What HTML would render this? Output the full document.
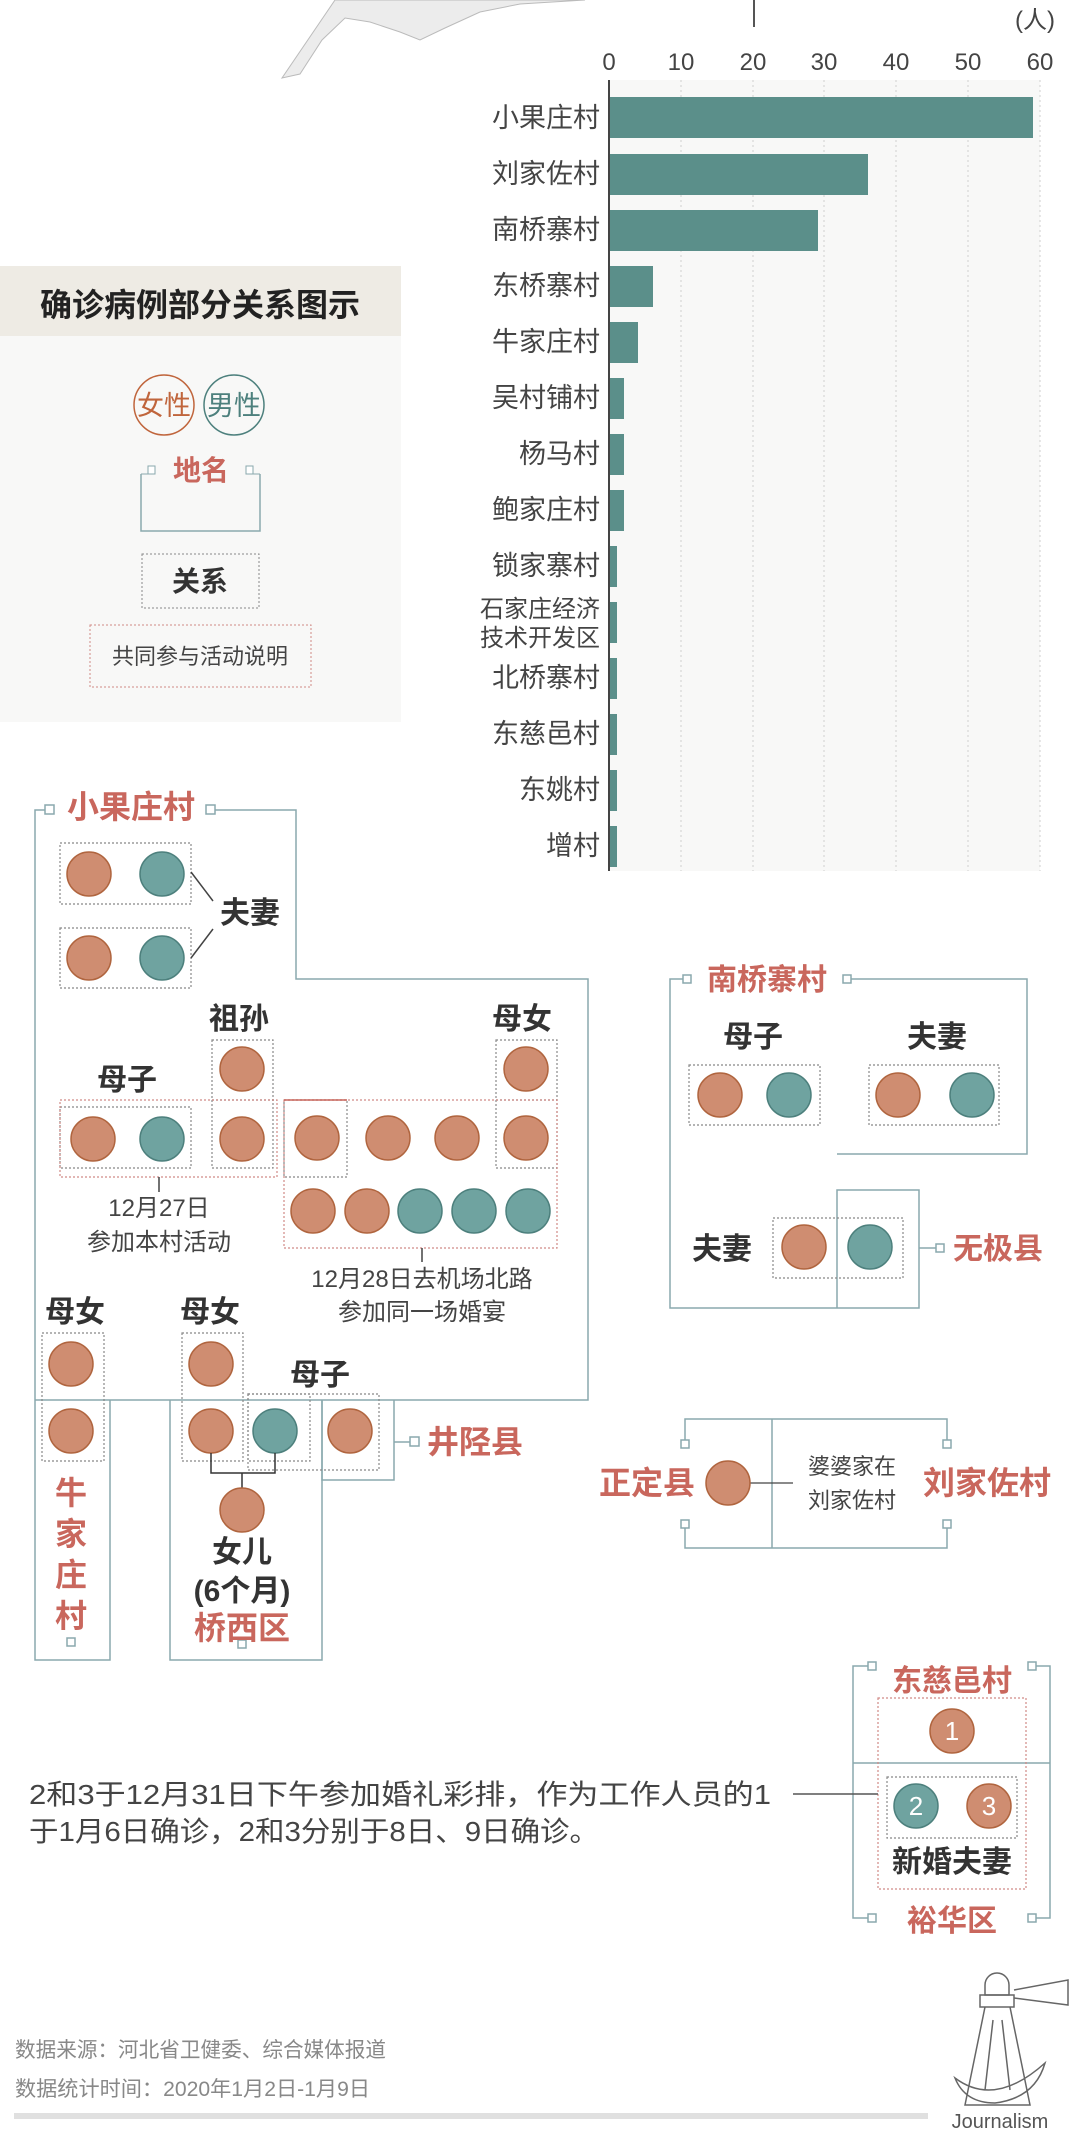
<!DOCTYPE html>
<html><head><meta charset="utf-8"><style>
html,body{margin:0;padding:0;background:#fff;}
svg{display:block;}
text{font-family:"Liberation Sans","Noto Sans CJK SC",sans-serif;}
</style></head><body>
<svg width="1080" height="2136" viewBox="0 0 1080 2136" xmlns="http://www.w3.org/2000/svg">
<defs>
<g id="f"><circle r="22" fill="#cf8d71" stroke="#b0653f" stroke-width="1.5"/></g>
<g id="m"><circle r="22" fill="#6fa3a0" stroke="#4d807d" stroke-width="1.5"/></g>
</defs>
<!-- map shape -->
<polygon points="335,0 282,78 300,74 322,40 345,18 370,22 400,32 420,40 445,28 480,12 520,4 585,0" fill="#ececec" stroke="#bbb" stroke-width="1"/>
<line x1="754" y1="0" x2="754" y2="27" stroke="#555" stroke-width="2"/>
<text x="1035" y="28" font-size="24" fill="#444" text-anchor="middle">(人)</text>
<!-- chart -->
<rect x="609" y="80" width="431" height="791" fill="#f8f8f7"/>
<g stroke="#cfcfcf" stroke-dasharray="2,3" stroke-width="1">
<line x1="681" y1="80" x2="681" y2="871"/><line x1="753" y1="80" x2="753" y2="871"/><line x1="824" y1="80" x2="824" y2="871"/><line x1="896" y1="80" x2="896" y2="871"/><line x1="968" y1="80" x2="968" y2="871"/><line x1="1040" y1="80" x2="1040" y2="871"/>
</g>
<line x1="609" y1="80" x2="609" y2="871" stroke="#444" stroke-width="2"/>
<g font-size="24" fill="#444" text-anchor="middle">
<text x="609" y="70">0</text><text x="681" y="70">10</text><text x="753" y="70">20</text><text x="824" y="70">30</text><text x="896" y="70">40</text><text x="968" y="70">50</text><text x="1040" y="70">60</text>
</g>
<g fill="#5b8f8a">
<rect x="610" y="97" width="423" height="41"/>
<rect x="610" y="154" width="258" height="41"/>
<rect x="610" y="210" width="208" height="41"/>
<rect x="610" y="266" width="43" height="41"/>
<rect x="610" y="322" width="28" height="41"/>
<rect x="610" y="378" width="14" height="41"/>
<rect x="610" y="434" width="14" height="41"/>
<rect x="610" y="490" width="14" height="41"/>
<rect x="610" y="546" width="7" height="41"/>
<rect x="610" y="602" width="7" height="41"/>
<rect x="610" y="658" width="7" height="41"/>
<rect x="610" y="714" width="7" height="41"/>
<rect x="610" y="770" width="7" height="41"/>
<rect x="610" y="826" width="7" height="41"/>
</g>
<g font-size="27" fill="#444" text-anchor="end">
<text x="600" y="127">小果庄村</text>
<text x="600" y="183">刘家佐村</text>
<text x="600" y="239">南桥寨村</text>
<text x="600" y="295">东桥寨村</text>
<text x="600" y="351">牛家庄村</text>
<text x="600" y="407">吴村铺村</text>
<text x="600" y="463">杨马村</text>
<text x="600" y="519">鲍家庄村</text>
<text x="600" y="575">锁家寨村</text>
<text x="600" y="617" font-size="24">石家庄经济</text>
<text x="600" y="646" font-size="24">技术开发区</text>
<text x="600" y="687">北桥寨村</text>
<text x="600" y="743">东慈邑村</text>
<text x="600" y="799">东姚村</text>
<text x="600" y="855">增村</text>
</g>
<!-- legend -->
<rect x="0" y="266" width="401" height="70" fill="#eeebe4"/>
<rect x="0" y="336" width="401" height="386" fill="#f8f8f7"/>
<text x="200" y="316" font-size="32" font-weight="bold" fill="#222" text-anchor="middle">确诊病例部分关系图示</text>
<circle cx="164" cy="405" r="30" fill="none" stroke="#c0653c" stroke-width="1.5"/>
<circle cx="234" cy="405" r="30" fill="none" stroke="#4d807d" stroke-width="1.5"/>
<text x="164" y="415" font-size="27" fill="#c0653c" text-anchor="middle">女性</text>
<text x="234" y="415" font-size="27" fill="#4d807d" text-anchor="middle">男性</text>
<path d="M141,474 V531 H260 V474" fill="none" stroke="#8aa9ad" stroke-width="1.5"/>
<rect x="148" y="466" width="7" height="8" fill="#fff" stroke="#8aa9ad"/><rect x="246" y="466" width="7" height="8" fill="#fff" stroke="#8aa9ad"/>
<path d="M141,474 h7 M253,474 h7" stroke="#8aa9ad"/>
<text x="201" y="480" font-size="28" font-weight="bold" fill="#c9675d" text-anchor="middle">地名</text>
<rect x="142" y="554" width="117" height="54" fill="none" stroke="#888" stroke-dasharray="2,2"/>
<text x="200" y="591" font-size="28" font-weight="bold" fill="#333" text-anchor="middle">关系</text>
<rect x="90" y="625" width="221" height="62" fill="none" stroke="#d08a86" stroke-dasharray="2,2"/>
<text x="200" y="664" font-size="22" fill="#444" text-anchor="middle">共同参与活动说明</text>

<!-- 小果庄村 -->
<g fill="none" stroke="#8aa9ad" stroke-width="1.5">
<path d="M45,810 H35 V1660 H110 V1400"/>
<path d="M215,810 H296 V979 H588 V1400 H35"/>
<path d="M170,1400 V1660 H322 V1400"/>
<path d="M322,1400 V1480 H394 V1400 M394,1442 H410"/>
</g>
<g fill="#fff" stroke="#8aa9ad" stroke-width="1.5">
<rect x="45" y="805" width="9" height="9"/><rect x="206" y="805" width="9" height="9"/>
<rect x="410" y="1437" width="9" height="9"/>
<rect x="67" y="1638" width="8" height="8"/><rect x="238" y="1640" width="8" height="8"/>
</g>
<text x="131" y="818" font-size="32" font-weight="bold" fill="#c9675d" text-anchor="middle">小果庄村</text>
<g fill="none" stroke="#888" stroke-dasharray="2,2" stroke-width="1.2">
<rect x="60" y="843" width="131" height="61"/><rect x="60" y="928" width="131" height="60"/>
<rect x="212" y="1040" width="61" height="128"/><line x1="212" y1="1100" x2="273" y2="1100"/>
<rect x="60" y="1107" width="131" height="61"/>
<rect x="496" y="1040" width="61" height="128"/><line x1="496" y1="1100" x2="557" y2="1100"/>
<rect x="284" y="1100" width="63" height="77"/>
<rect x="42" y="1333" width="62" height="128"/><rect x="182" y="1333" width="61" height="128"/>
<rect x="248" y="1394" width="62" height="67"/><rect x="248" y="1394" width="131" height="76"/>
</g>
<g fill="none" stroke="#d08a86" stroke-dasharray="2,2" stroke-width="1.2">
<rect x="60" y="1100" width="217" height="77"/>
<rect x="284" y="1100" width="273" height="148"/>
</g>
<line x1="284" y1="1100" x2="347" y2="1100" stroke="#c9675d" stroke-width="1.5"/>
<path d="M191,872 L213,901 M191,958 L213,929" stroke="#444" stroke-width="1.5"/>
<path d="M159,1177 V1192 M422,1248 V1262" stroke="#444" stroke-width="1.5"/>
<use href="#f" x="89" y="874"/><use href="#m" x="162" y="874"/>
<use href="#f" x="89" y="958"/><use href="#m" x="162" y="958"/>
<use href="#f" x="242" y="1069"/><use href="#f" x="242" y="1139"/>
<use href="#f" x="93" y="1139"/><use href="#m" x="162" y="1139"/>
<use href="#f" x="526" y="1069"/><use href="#f" x="526" y="1138"/>
<use href="#f" x="317" y="1138"/><use href="#f" x="388" y="1138"/><use href="#f" x="457" y="1138"/>
<use href="#f" x="313" y="1211"/><use href="#f" x="367" y="1211"/><use href="#m" x="420" y="1211"/><use href="#m" x="474" y="1211"/><use href="#m" x="528" y="1211"/>
<use href="#f" x="71" y="1364"/><use href="#f" x="71" y="1431"/>
<use href="#f" x="211" y="1364"/><use href="#f" x="211" y="1431"/>
<use href="#m" x="275" y="1431"/><use href="#f" x="350" y="1431"/>
<path d="M211,1453 V1473 H275 V1453 M242,1473 V1488" fill="none" stroke="#333" stroke-width="1.5"/>
<use href="#f" x="242" y="1510"/>
<g font-size="30" font-weight="bold" fill="#333" text-anchor="middle">
<text x="250" y="923">夫妻</text>
<text x="239" y="1029">祖孙</text>
<text x="127" y="1090">母子</text>
<text x="522" y="1029">母女</text>
<text x="75" y="1322">母女</text>
<text x="210" y="1322">母女</text>
<text x="320" y="1385">母子</text>
<text x="242" y="1562">女儿</text>
<text x="242" y="1601">(6个月)</text>
</g>
<g font-size="24" fill="#444" text-anchor="middle">
<text x="159" y="1216">12月27日</text>
<text x="159" y="1250">参加本村活动</text>
<text x="422" y="1287">12月28日去机场北路</text>
<text x="422" y="1320">参加同一场婚宴</text>
</g>
<g font-size="32" font-weight="bold" fill="#c9675d" text-anchor="middle">
<text x="475" y="1453">井陉县</text>
<text x="242" y="1639">桥西区</text>
<text x="71" y="1504">牛</text><text x="71" y="1545">家</text><text x="71" y="1586">庄</text><text x="71" y="1627">村</text>
</g>

<!-- 南桥寨村 -->
<g fill="none" stroke="#8aa9ad" stroke-width="1.5">
<path d="M683,979 H670 V1308 H919 V1190 H837 V1308"/>
<path d="M847,979 H1027 V1154 H837"/>
<path d="M919,1248 H936"/>
</g>
<g fill="#fff" stroke="#8aa9ad" stroke-width="1.5">
<rect x="683" y="975" width="8" height="8"/><rect x="843" y="975" width="8" height="8"/><rect x="936" y="1244" width="8" height="8"/>
</g>
<text x="767" y="990" font-size="30" font-weight="bold" fill="#c9675d" text-anchor="middle">南桥寨村</text>
<text x="998" y="1259" font-size="30" font-weight="bold" fill="#c9675d" text-anchor="middle">无极县</text>
<g fill="none" stroke="#888" stroke-dasharray="2,2" stroke-width="1.2">
<rect x="689" y="1065" width="131" height="60"/><rect x="869" y="1065" width="130" height="60"/><rect x="773" y="1218" width="130" height="60"/>
</g>
<use href="#f" x="720" y="1095"/><use href="#m" x="789" y="1095"/>
<use href="#f" x="898" y="1095"/><use href="#m" x="972" y="1095"/>
<use href="#f" x="804" y="1247"/><use href="#m" x="870" y="1247"/>
<g font-size="30" font-weight="bold" fill="#333" text-anchor="middle">
<text x="753" y="1047">母子</text><text x="937" y="1047">夫妻</text><text x="722" y="1259">夫妻</text>
</g>

<!-- 正定县 / 刘家佐村 -->
<g fill="none" stroke="#8aa9ad" stroke-width="1.5">
<path d="M685,1440 V1419 H947 V1440"/>
<path d="M685,1528 V1548 H947 V1528"/>
<path d="M772,1419 V1548"/>
</g>
<g fill="#fff" stroke="#8aa9ad" stroke-width="1.5">
<rect x="681" y="1440" width="8" height="8"/><rect x="943" y="1440" width="8" height="8"/>
<rect x="681" y="1520" width="8" height="8"/><rect x="943" y="1520" width="8" height="8"/>
</g>
<line x1="728" y1="1483" x2="793" y2="1483" stroke="#444" stroke-width="1.2"/>
<use href="#f" x="728" y="1483"/>
<text x="647" y="1494" font-size="32" font-weight="bold" fill="#c9675d" text-anchor="middle">正定县</text>
<text x="987" y="1494" font-size="32" font-weight="bold" fill="#c9675d" text-anchor="middle">刘家佐村</text>
<text x="852" y="1474" font-size="22" fill="#444" text-anchor="middle">婆婆家在</text>
<text x="852" y="1508" font-size="22" fill="#444" text-anchor="middle">刘家佐村</text>

<!-- 东慈邑村 -->
<g fill="none" stroke="#8aa9ad" stroke-width="1.5">
<path d="M868,1666 H853 V1918 H868 M1036,1666 H1050 V1918 H1036"/>
<path d="M853,1763 H1050"/>
</g>
<g fill="#fff" stroke="#8aa9ad" stroke-width="1.5">
<rect x="868" y="1662" width="8" height="8"/><rect x="1028" y="1662" width="8" height="8"/>
<rect x="868" y="1914" width="8" height="8"/><rect x="1028" y="1914" width="8" height="8"/>
</g>
<rect x="878" y="1698" width="148" height="191" fill="none" stroke="#d08a86" stroke-dasharray="2,2" stroke-width="1.2"/>
<rect x="887" y="1777" width="130" height="61" fill="none" stroke="#888" stroke-dasharray="2,2" stroke-width="1.2"/>
<line x1="793" y1="1794" x2="878" y2="1794" stroke="#555" stroke-width="1.5"/>
<use href="#f" x="952" y="1731"/><use href="#m" x="916" y="1806"/><use href="#f" x="989" y="1806"/>
<g font-size="26" fill="#fff" text-anchor="middle"><text x="952" y="1740">1</text><text x="916" y="1815">2</text><text x="989" y="1815">3</text></g>
<text x="952" y="1691" font-size="30" font-weight="bold" fill="#c9675d" text-anchor="middle">东慈邑村</text>
<text x="952" y="1872" font-size="30" font-weight="bold" fill="#333" text-anchor="middle">新婚夫妻</text>
<text x="952" y="1931" font-size="30" font-weight="bold" fill="#c9675d" text-anchor="middle">裕华区</text>

<text x="29" y="1804" font-size="28" fill="#444" textLength="742" lengthAdjust="spacingAndGlyphs">2和3于12月31日下午参加婚礼彩排，作为工作人员的1</text>
<text x="29" y="1841" font-size="28" fill="#444" textLength="570" lengthAdjust="spacingAndGlyphs">于1月6日确诊，2和3分别于8日、9日确诊。</text>

<text x="15" y="2057" font-size="21" fill="#888" textLength="371" lengthAdjust="spacingAndGlyphs">数据来源：河北省卫健委、综合媒体报道</text>
<text x="15" y="2096" font-size="21" fill="#888" textLength="355" lengthAdjust="spacingAndGlyphs">数据统计时间：2020年1月2日-1月9日</text>
<rect x="14" y="2113" width="914" height="6" fill="#e0e0e0"/>
<!-- logo -->
<g fill="none" stroke="#666" stroke-width="1.5">
<path d="M985,1985 a12,12 0 0 1 24,0 v10 h-24z"/>
<rect x="980" y="1995" width="34" height="12"/>
<path d="M1014,1990 L1068,1980 V2005 L1014,1998"/>
<path d="M985,2007 L965,2105 H1030 L1010,2007"/>
<path d="M993,2020 L985,2090 M1002,2020 L1010,2090"/>
<path d="M955,2078 q40,30 90,-15 q-10,35 -50,40 q-30,0 -40,-25z"/>
</g>
<text x="1000" y="2128" font-size="20" fill="#555" text-anchor="middle" font-family="Liberation Mono">Journalism</text>
</svg>
</body></html>
